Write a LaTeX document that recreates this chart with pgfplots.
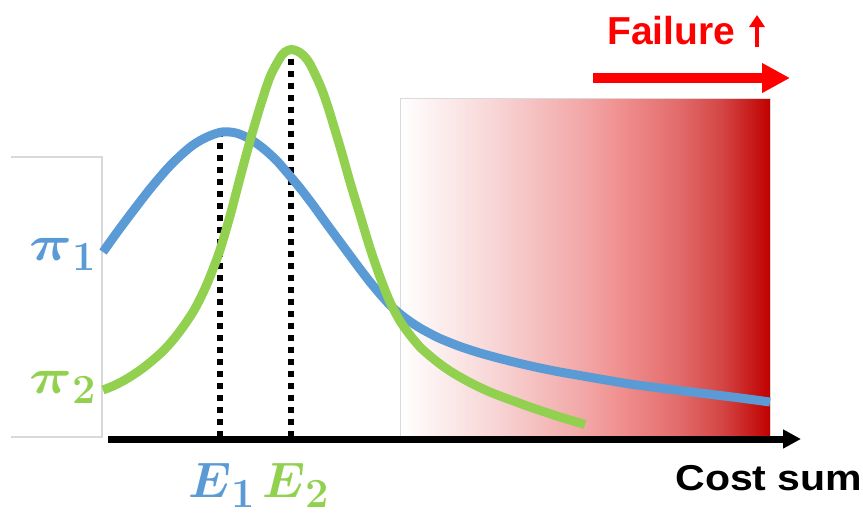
\documentclass[border=0pt]{standalone}
\usepackage{fontspec}
\usepackage{amsmath,amssymb}
\usepackage{graphicx}
\usepackage{pgfplots}
\pgfplotsset{compat=1.18}
\usetikzlibrary{arrows.meta}

\newfontfamily\labelsans{Liberation Sans}

\definecolor{piblue}{HTML}{5B9BD5}
\definecolor{pigreen}{HTML}{92D050}
\definecolor{failred}{HTML}{FF0000}
\definecolor{deepred}{HTML}{C00000}
\definecolor{boxgray}{HTML}{D9D9D9}
\definecolor{shA}{HTML}{F8D6D6}
\definecolor{shB}{HTML}{F2A6A6}
\definecolor{shC}{HTML}{F08E8E}
\definecolor{shD}{HTML}{E36C6C}
\definecolor{shE}{HTML}{D44545}

% white -> pink -> deep red, path spans 25bp..75bp
\pgfdeclarehorizontalshading{failshade}{100bp}{%
  color(0bp)=(white); color(25bp)=(white); color(37.5bp)=(shA);
  color(50bp)=(shB); color(55bp)=(shC); color(62.5bp)=(shD);
  color(68.5bp)=(shE); color(75bp)=(deepred); color(100bp)=(deepred)}

\begin{document}
\begin{tikzpicture}
\begin{axis}[
  scale only axis,
  width=431.5pt, height=256pt,
  xmin=0, xmax=863, ymin=0, ymax=512,
  hide axis, clip=false,
]
% full canvas
\path (axis cs:0,0) rectangle (axis cs:863,512);

% failure region
\addplot[draw=boxgray, line width=0.4pt, shading=failshade]
  coordinates {(400,75) (770,75) (770,414) (400,414) (400,75)};

% frame behind the policy labels
\draw[boxgray, line width=0.6pt] (axis cs:11,355) -- (axis cs:102,355) -- (axis cs:102,75) -- (axis cs:11,75);

% expected values
\addplot[black, line width=3pt, dash pattern=on 3pt off 3pt] coordinates {(220,75) (220,380)};
\addplot[black, line width=3pt, dash pattern=on 3pt off 3pt] coordinates {(291,75) (291,458)};

% pi_1: wide, heavy-tailed
\addplot[piblue, line width=4.5pt, smooth] coordinates {
  (103,260) (118,281) (133,301) (150,323) (167,343) (180,356) (193,367)
  (207,375) (222,380) (236,379) (250,373) (264,363) (277,351) (290,336)
  (300,324) (313,307) (326,289) (340,270) (350,256.5) (360,243) (370,230)
  (380,218) (390,207) (400,198) (410,190.5) (420,184) (430,178.5)
  (440,173.5) (460,165.5) (480,159) (500,153.5) (520,148.5) (540,144)
  (560,140) (580,136.5) (600,133) (630,128) (660,124) (700,119)
  (740,114) (770,110)};

% pi_2: narrow, peaked
\addplot[pigreen, line width=4.5pt, smooth] coordinates {
  (103,122) (113,126) (123,131) (133,137) (143,144) (153,152) (163,161)
  (173,172) (183,185) (193,200) (200,213) (207,228) (213,243) (220,262)
  (230,296) (240,334) (250,371) (260,405) (270,435) (280,454) (285,460)
  (291,462.5) (297,461) (303,457) (310,448) (320,427) (327,408) (335,382)
  (343,355) (350,330) (360,297) (370,264) (380,235) (390,210) (400,191)
  (410,177) (420,165) (430,156) (440,148) (450,141) (460,135) (470,129.5)
  (480,124.5) (490,120) (500,116) (515,110.5) (530,105) (545,100)
  (560,95) (575,90.5) (585,87.5)};

% cost axis
\draw[black, line width=3.5pt, -{Triangle[length=9pt,width=9pt]}]
  (axis cs:108,73) -- (axis cs:801,73);

% failure direction
\draw[failred, line width=5pt, -{Triangle[length=14pt,width=14pt]}]
  (axis cs:593,434) -- (axis cs:790,434);
\node[anchor=base west, text=failred, inner sep=0pt,
      font=\labelsans\bfseries\fontsize{19.5}{20}\selectfont]
  at (axis cs:607,468) {Failure};
\draw[failred, line width=2pt, -{Triangle[length=6pt,width=7.5pt]}]
  (axis cs:757,465) -- (axis cs:757,497);

\node[anchor=base west, inner sep=0pt,
      font=\labelsans\bfseries\fontsize{18}{20}\selectfont]
  at (axis cs:675,22) {\scalebox{1.14}[1]{Cost sum}};

% labels
\node[text=piblue, font=\Huge] at (axis cs:63,258)
  {$\mbox{\scalebox{1.2}[1]{$\boldsymbol{\pi}$}}_{\mbox{\huge\bfseries 1}}$};
\node[text=pigreen, font=\Huge] at (axis cs:63,125)
  {$\mbox{\scalebox{1.2}[1]{$\boldsymbol{\pi}$}}_{\mbox{\huge\bfseries 2}}$};
\node[text=piblue, font=\Huge] at (axis cs:222,27) {$\boldsymbol{E}_{\mbox{\huge\bfseries 1}}$};
\node[text=pigreen, font=\Huge] at (axis cs:296,27) {$\boldsymbol{E}_{\mbox{\huge\bfseries 2}}$};
\end{axis}
\end{tikzpicture}
\end{document}
